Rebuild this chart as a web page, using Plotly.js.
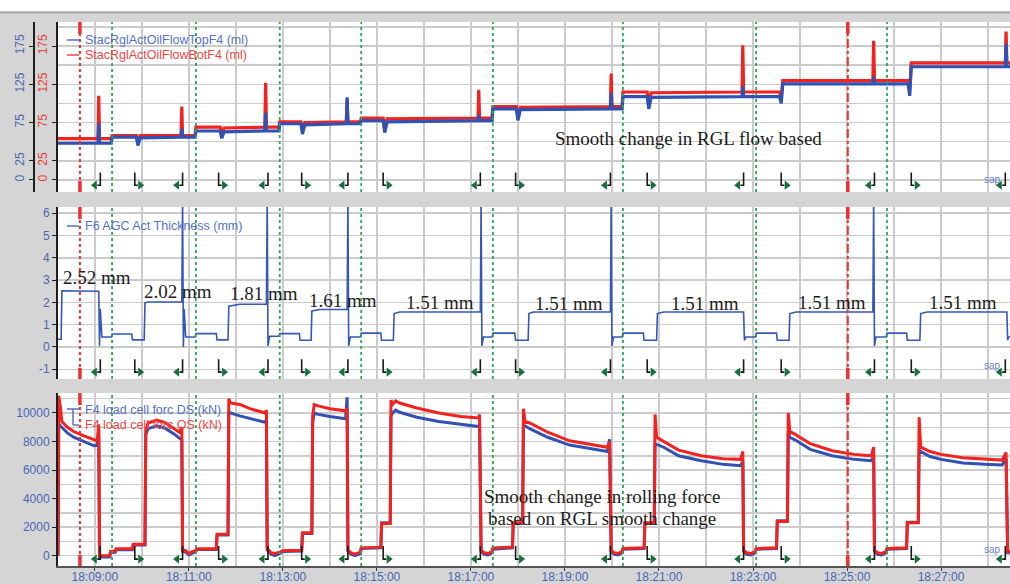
<!DOCTYPE html>
<html><head><meta charset="utf-8">
<script src="https://cdn.plot.ly/plotly-3.0.1.min.js"></script>
<style>html,body{margin:0;padding:0;background:#d5d5d5;}#chart{width:1010px;height:584px;}</style>
</head><body><div id="chart"></div>
<script>
const DAY = '2021-03-15 ';

// ---------- top panel: RGL oil flow (ml) ----------
const flowTime = ['18:08:13','18:09:04','18:09:05','18:09:06','18:09:21','18:09:22','18:09:53','18:09:55','18:09:58','18:10:50',
 '18:10:51','18:10:52','18:11:08','18:11:09','18:11:40','18:11:42','18:11:45','18:12:37','18:12:38','18:12:39',
 '18:12:55','18:12:56','18:13:23','18:13:25','18:13:28','18:14:21','18:14:22','18:14:23','18:14:39','18:14:40',
 '18:15:08','18:15:10','18:15:13','18:17:09','18:17:10','18:17:11','18:17:27','18:17:28','18:17:58','18:18:00',
 '18:18:03','18:19:58','18:19:59','18:20:00','18:20:13','18:20:14','18:20:45','18:20:47','18:20:50','18:22:46',
 '18:22:47','18:22:48','18:23:34','18:23:36','18:23:38','18:25:33','18:25:34','18:25:35','18:26:18','18:26:20',
 '18:26:22','18:28:22','18:28:23','18:28:24','18:28:28'];
const flowBot = [54,54,110,54,54,58,58,50,58,58, 96,58,58,69,69,60,68,69,127,69, 69,76,76,66,75,76,105,76,76,81,
 81,68,80,81,118,81,81,96,96,82, 95,96,139,96,96,115,115,98,114,115, 176,115,115,108,130,130,182,130,130,118, 153,153,194,153,153];
const flowTop = [48,48,74,48,48,56,56,45,55,56, 67,56,56,64,64,54.5,63,64,88,64, 64,73.5,73.5,60,72,73.5,108,73.5,73.5,77.5,
 77.5,62,76,77.5,85,77.5,77.5,93,93,78, 92,93,114,93,93,109,109,93,108,109, 123,109,109,100,125.5,125.5,135,125.5,125.5,110, 148,148,178,148,148];
const flowTicks = [0,25,75,125,175];

// ---------- middle panel: F6 AGC thickness (mm) ----------
const thickTime = ['18:08:13','18:08:17','18:08:18','18:09:05','18:09:06','18:09:07','18:09:09','18:09:21','18:09:22','18:09:47',
 '18:09:48','18:10:03','18:10:04','18:10:08','18:10:51','18:10:52','18:10:53','18:10:54','18:10:56','18:11:08',
 '18:11:09','18:11:35','18:11:36','18:11:50','18:11:51','18:12:05','18:12:39','18:12:40','18:12:41','18:12:43',
 '18:12:55','18:12:56','18:13:21','18:13:22','18:13:36','18:13:37','18:13:47','18:14:22','18:14:23','18:14:24',
 '18:14:26','18:14:39','18:14:40','18:15:05','18:15:06','18:15:21','18:15:22','18:15:29','18:17:12','18:17:13',
 '18:17:14','18:17:16','18:17:27','18:17:28','18:17:56','18:17:57','18:18:13','18:18:14','18:18:20','18:19:58',
 '18:19:59','18:20:00','18:20:02','18:20:13','18:20:14','18:20:40','18:20:41','18:20:57','18:20:58','18:21:06',
 '18:22:48','18:22:49','18:22:51','18:23:03','18:23:04','18:23:30','18:23:31','18:23:46','18:23:47','18:23:55',
 '18:25:33','18:25:34','18:25:35','18:25:37','18:25:50','18:25:51','18:26:16','18:26:17','18:26:33','18:26:34',
 '18:26:42','18:28:24','18:28:25','18:28:26','18:28:28'];
const thickVal = [0.35,0.35,2.52,2.50,0.05,1.7,0.45,0.45,0.58,0.58,
 0.32,0.32,1.98,2.02,2.03,6.6,0,1.7,0.45,0.45,
 0.6,0.6,0.32,0.32,1.83,1.92,1.92,6.6,0.05,0.48,
 0.48,0.6,0.6,0.3,0.3,1.62,1.68,1.68,6.6,0.05,
 0.45,0.45,0.62,0.62,0.3,0.3,1.5,1.57,1.57,6.6,
 0.05,0.45,0.45,0.62,0.62,0.3,0.3,1.5,1.57,1.57,
 6.6,0.05,0.45,0.45,0.62,0.62,0.3,0.3,1.5,1.57,
 1.57,0.3,0.45,0.45,0.62,0.62,0.3,0.3,1.5,1.57,
 1.57,6.6,0.05,0.45,0.45,0.62,0.62,0.3,0.3,1.5,
 1.57,1.57,0.3,0.45,0.45];
const thickTicks = [-1,0,1,2,3,4,5,6];
const thickLabels = ['2.52 mm','2.02 mm','1.81 mm','1.61 mm','1.51 mm','1.51 mm','1.51 mm','1.51 mm','1.51 mm'];

// ---------- bottom panel: F4 load cell force (kN) ----------
const forceTime = ['18:08:13','18:08:14','18:08:16','18:08:18','18:08:25','18:08:33','18:08:46','18:08:59','18:09:03','18:09:05',
 '18:09:06','18:09:19','18:09:20','18:09:26','18:09:27','18:09:48','18:09:49','18:10:04','18:10:05','18:10:08',
 '18:10:19','18:10:29','18:10:42','18:10:48','18:10:51','18:10:52','18:10:56','18:11:00','18:11:05','18:11:09',
 '18:11:10','18:11:35','18:11:36','18:11:50','18:11:51','18:11:53','18:12:05','18:12:18','18:12:31','18:12:37',
 '18:12:39','18:12:40','18:12:45','18:12:50','18:12:56','18:13:00','18:13:24','18:13:25','18:13:37','18:13:38',
 '18:13:40','18:13:45','18:14:00','18:14:13','18:14:20','18:14:22','18:14:23','18:14:27','18:14:32','18:14:39',
 '18:14:40','18:15:05','18:15:06','18:15:17','18:15:18','18:15:20','18:15:24','18:15:29','18:15:51','18:16:19',
 '18:16:47','18:17:10','18:17:11','18:17:13','18:17:17','18:17:22','18:17:27','18:17:28','18:17:53','18:17:54',
 '18:18:06','18:18:07','18:18:09','18:18:15','18:18:38','18:19:06','18:19:34','18:19:54','18:19:57','18:19:59',
 '18:20:03','18:20:08','18:20:13','18:20:14','18:20:41','18:20:42','18:20:54','18:20:55','18:20:57','18:21:06',
 '18:21:25','18:21:54','18:22:22','18:22:44','18:22:47','18:22:48','18:22:52','18:22:57','18:23:03','18:23:04',
 '18:23:30','18:23:31','18:23:44','18:23:45','18:23:47','18:23:54','18:24:13','18:24:41','18:25:09','18:25:31',
 '18:25:34','18:25:35','18:25:39','18:25:44','18:25:50','18:25:51','18:26:16','18:26:17','18:26:31','18:26:32',
 '18:26:34','18:26:46','18:27:00','18:27:28','18:27:56','18:28:18','18:28:23','18:28:25','18:28:28'];
const forceOS = [0,11200,10400,9400,9000,8700,8400,8100,8050,9200,
 0,0,300,330,480,480,800,800,8800,9300,
 9500,9350,8900,8650,9000,400,350,150,300,350,
 480,480,1500,1500,11000,10700,10600,10300,10100,10000,
 10200,500,200,150,250,350,380,1600,1600,9800,
 10600,10500,10300,10200,10150,10300,400,200,100,250,
 550,600,2250,2250,10900,10600,10850,10700,10350,10000,
 9750,9650,9900,400,200,150,300,550,600,2300,
 2300,10300,9400,9300,8650,8050,7800,7600,8000,400,
 200,150,300,500,550,2300,2300,9900,8300,8000,
 7400,7000,6800,6750,7300,400,200,150,300,500,
 550,2400,2400,10000,8700,8500,7850,7350,7100,7000,
 7600,400,200,150,300,500,550,2300,2300,9700,
 7600,7300,7100,6870,6750,6700,7230,300,300];
const forceDS = [0,9200,9100,9000,8600,8300,8000,7700,7750,8600,
 -100,-100,200,230,420,420,750,750,8500,8900,
 9100,8950,8500,8200,8100,300,250,50,200,300,
 430,430,1450,1450,10100,10000,9800,9600,9450,9350,
 9500,400,100,0,150,300,330,1550,1550,9300,
 10000,9900,9750,9650,9600,11100,300,100,0,150,
 500,550,2300,2300,9800,10000,10200,10050,9700,9400,
 9200,9050,9200,300,100,50,200,450,550,2250,
 2250,9000,9100,8900,8300,7750,7500,7300,8160,300,
 100,50,200,450,500,2250,2250,7800,7800,7600,
 7000,6650,6400,6300,6600,300,100,50,200,450,
 500,2450,2450,8700,8300,8100,7450,7000,6750,6650,
 7000,300,100,50,200,450,500,2350,2350,7400,
 7300,6950,6750,6500,6400,6350,6800,200,200];
const forceTicks = [0,2000,4000,6000,8000,10000];

// ---------- events (shared by all panels) ----------
const coilIn  = ['18:09:07','18:10:52','18:12:41','18:14:23','18:17:12','18:19:58','18:22:48','18:25:35','18:28:22'];
const coilOut = ['18:09:51','18:11:38','18:13:24','18:15:08','18:17:57','18:20:45','18:23:36','18:26:22'];
const greenMarks = ['18:09:22','18:11:09','18:12:56','18:14:40','18:17:28','18:20:14','18:23:04','18:25:51'];
const cursors = ['18:08:41','18:25:01'];

const serieNames = {
  top:'StacRglActOilFlowTopF4 (ml)', bot:'StacRglActOilFlowBotF4 (ml)',
  thick:'F6 AGC Act Thickness (mm)', ds:'F4 load cell forc DS (kN)', os:'F4 load cell forc OS (kN)'
};
const noteTop = 'Smooth change in RGL flow based';
const noteBottom = ['Smooth change in rolling force','based on RGL smooth change'];

// ---------- helpers ----------
const T = s => DAY + s;
function sec(s){const p=s.split(':').map(Number);return p[0]*3600+p[1]*60+p[2];}
function hms(v){v=Math.round(v);const h=Math.floor(v/3600),m=Math.floor((v%3600)/60),s=v%60;
  const f=n=>String(n).padStart(2,'0');return DAY+f(h)+':'+f(m)+':'+f(s);}
const W=1010,H=584,MT=22,MB=18;
const px = x => x/W;
const py = y => (H-MB-y)/(H-MT-MB);

const BLUE='#2f52b4', RED='#f3221f', GREEN='#2ea35a', GRID='#cbcbcb';
const TICKBLUE='#4865b4', TICKRED='#e8403a';

const panels = [
  {ya:'y',  dom:[py(192),py(22)],  range:[-15.7,206.5]},
  {ya:'y2', dom:[py(379),py(207)], range:[-1.436,6.28]},
  {ya:'y3', dom:[0,py(393)],       range:[-722,11400]}
];

const traces = [];
traces.push({x:flowTime.map(T), y:flowBot, yaxis:'y', xaxis:'x', mode:'lines', line:{color:RED,width:3.2}, name:serieNames.bot, hoverinfo:'skip'});
traces.push({x:flowTime.map(T), y:flowTop, yaxis:'y4', xaxis:'x', mode:'lines', line:{color:BLUE,width:3.2}, name:serieNames.top, hoverinfo:'skip'});
traces.push({x:thickTime.map(T), y:thickVal, yaxis:'y2', xaxis:'x', mode:'lines', line:{color:'#3557b8',width:1.6}, name:serieNames.thick, hoverinfo:'skip'});
traces.push({x:forceTime.map(T), y:forceDS, yaxis:'y3', xaxis:'x', mode:'lines', line:{color:BLUE,width:3}, name:serieNames.ds, hoverinfo:'skip'});
traces.push({x:forceTime.map(T), y:forceOS, yaxis:'y3', xaxis:'x', mode:'lines', line:{color:RED,width:3}, name:serieNames.os, hoverinfo:'skip'});

// coil in/out arrow markers in each panel
panels.forEach(p=>{
  const span=p.range[1]-p.range[0];
  const yTop=p.range[0]+0.115*span, yBot=p.range[0]+0.04*span;
  const hx=[],hy=[],lx=[],ly=[],rx=[],ry=[];
  coilIn.forEach(t=>{const s=sec(t);hx.push(hms(s),hms(s),hms(s-4),null);hy.push(yTop,yBot,yBot,null);lx.push(hms(s-7));ly.push(yBot);});
  coilOut.forEach(t=>{const s=sec(t);hx.push(hms(s),hms(s),hms(s+4),null);hy.push(yTop,yBot,yBot,null);rx.push(hms(s+7));ry.push(yBot);});
  traces.push({x:hx,y:hy,yaxis:p.ya,xaxis:'x',mode:'lines',line:{color:'#1a1a1a',width:1.6},hoverinfo:'skip'});
  traces.push({x:lx,y:ly,yaxis:p.ya,xaxis:'x',mode:'markers',marker:{symbol:'triangle-left',size:8,color:'#16703a'},hoverinfo:'skip'});
  traces.push({x:rx,y:ry,yaxis:p.ya,xaxis:'x',mode:'markers',marker:{symbol:'triangle-right',size:8,color:'#16703a'},hoverinfo:'skip'});
});

// shapes
const shapes = [];
shapes.push({type:'rect',xref:'paper',yref:'paper',x0:0,x1:1,y0:py(11),y1:py(0),fillcolor:'#ffffff',line:{width:0},layer:'above'});
shapes.push({type:'line',xref:'paper',yref:'paper',x0:0,x1:1,y0:py(12.5),y1:py(12.5),line:{color:'#a9a9a9',width:2},layer:'above'});
['y domain','y2 domain','y3 domain'].forEach(yr=>{
  greenMarks.forEach(t=>shapes.push({type:'line',xref:'x',yref:yr,x0:T(t),x1:T(t),y0:0,y1:1,layer:'above',line:{color:GREEN,width:1.8,dash:'dot'}}));
  cursors.forEach((t,i)=>{
    shapes.push({type:'line',xref:'x',yref:yr,x0:T(t),x1:T(t),y0:0,y1:1,layer:'above',line:{color:'#f03030',width:2,dash:i===0?'dot':'dashdot'}});
    shapes.push({type:'line',xref:'x',yref:yr,x0:T(t),x1:T(t),y0:0,y1:0.065,layer:'above',line:{color:'#f03030',width:3.5}});
    shapes.push({type:'line',xref:'x',yref:yr,x0:T(t),x1:T(t),y0:0.93,y1:1,layer:'above',line:{color:'#f03030',width:3.5}});
  });
});
// legend glyphs
const lg = (x0,y0,x1,y1,c)=>shapes.push({type:'line',xref:'paper',yref:'paper',x0:px(x0),x1:px(x1),y0:py(y0),y1:py(y1),layer:'above',line:{color:c,width:1.5}});
lg(67,40,79,40,'#5571c8'); lg(67,55,79,55,'#f04545'); lg(67,226,79,226,'#5571c8');
lg(67,409,79,409,'#5571c8'); lg(73,409,73,425,'#5571c8'); lg(73,425,79,425,'#5571c8');

// annotations
const ann = [];
const txt = (x,y,text,opt)=>ann.push(Object.assign({xref:'paper',yref:'paper',x:px(x),y:py(y),text:text,showarrow:false,xanchor:'left',yanchor:'middle'},opt));
const legFont = c=>({family:'Liberation Sans, Arial, sans-serif',size:12.5,color:c});
txt(83,40,serieNames.top,{font:legFont('#5571c8')});
txt(83,55,serieNames.bot,{font:legFont('#f04545')});
txt(83,226,serieNames.thick,{font:legFont('#5571c8')});
txt(83,410,serieNames.ds,{font:legFont('#5571c8')});
txt(83,425,serieNames.os,{font:legFont('#f04545')});
const serif = {family:'Liberation Serif, Times New Roman, serif',size:19,color:'#1c1c1c'};
const labX=[61,142,228,307,404,533,669,796,927], labY=[277,291,293,300,302,304,303,302,302];
thickLabels.forEach((s,i)=>txt(labX[i],labY[i],s,{font:serif}));
txt(688,138,noteTop,{font:serif,xanchor:'center'});
txt(602,496,noteBottom[0],{font:serif,xanchor:'center'});
txt(602,518,noteBottom[1],{font:serif,xanchor:'center'});
[[982,180],[982,365],[982,549]].forEach(p=>txt(p[0],p[1],'sap',{font:{family:'Liberation Sans, Arial',size:10,color:'#6a80d4'}}));

const yBase = (p,extra)=>Object.assign({domain:p.dom,range:p.range,anchor:'x',showline:true,linecolor:'#1e1e1e',linewidth:2,
  ticks:'outside',ticklen:4,tickcolor:'#1e1e1e',showgrid:true,gridcolor:GRID,gridwidth:1.5,zeroline:false,fixedrange:true,
  tickfont:{family:'Liberation Sans, Arial, sans-serif',size:12,color:TICKBLUE},tickmode:'array'},extra);

const layout = {
  width:W,height:H,margin:{l:0,r:0,t:MT,b:MB,pad:0},
  paper_bgcolor:'#d5d5d5',plot_bgcolor:'#ffffff',showlegend:false,
  font:{family:'Liberation Sans, Arial, sans-serif'},
  xaxis:{type:'date',domain:[px(58),1],range:[T('18:08:13'),T('18:28:28')],anchor:'y3',
    tickmode:'linear',tick0:T('18:09:00'),dtick:120000,tickformat:'%H:%M:%S',
    showgrid:true,gridcolor:GRID,gridwidth:1.5,
    minor:{tickmode:'linear',tick0:T('18:09:00'),dtick:60000,showgrid:true,gridcolor:GRID,gridwidth:1.5},
    ticks:'outside',ticklen:3,tickcolor:'#333',showline:true,linecolor:'#555',linewidth:1.5,zeroline:false,fixedrange:true,
    ticklabelstandoff:-4,
    tickfont:{family:'Liberation Sans, Arial, sans-serif',size:12,color:TICKBLUE}},
  yaxis: yBase(panels[0],{tickvals:flowTicks,ticktext:flowTicks.map(String),tickangle:-90,
    tickfont:{family:'Liberation Sans, Arial, sans-serif',size:12,color:TICKRED},
    minor:{tickmode:'linear',tick0:0,dtick:25,showgrid:true,gridcolor:GRID,gridwidth:1.5}}),
  yaxis4:{overlaying:'y',anchor:'free',position:px(34),side:'left',range:panels[0].range,tickmode:'array',
    tickvals:flowTicks,ticktext:flowTicks.map(String),tickangle:-90,showgrid:false,zeroline:false,showline:true,
    linecolor:'#1e1e1e',linewidth:2,ticks:'outside',ticklen:4,tickcolor:'#1e1e1e',fixedrange:true,
    tickfont:{family:'Liberation Sans, Arial, sans-serif',size:12,color:TICKBLUE}},
  yaxis2: yBase(panels[1],{tickvals:thickTicks,ticktext:thickTicks.map(String)}),
  yaxis3: yBase(panels[2],{tickvals:forceTicks,ticktext:forceTicks.map(String),
    minor:{tickmode:'linear',tick0:0,dtick:1000,showgrid:true,gridcolor:GRID,gridwidth:1.5}}),
  shapes:shapes, annotations:ann
};
Plotly.newPlot('chart',traces,layout,{staticPlot:true,displayModeBar:false});
</script></body></html>
